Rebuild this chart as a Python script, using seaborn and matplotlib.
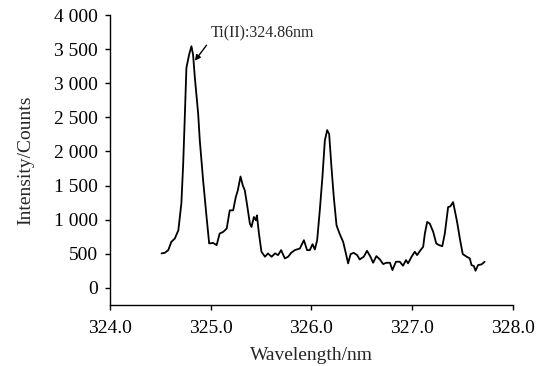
import matplotlib
matplotlib.use("Agg")
import matplotlib.pyplot as plt
import seaborn as sns
import pandas as pd

# ---- data ----
wavelength = [324.513, 324.546, 324.58, 324.61, 324.645, 324.68, 324.71, 324.728, 324.745, 324.76,
              324.787, 324.81, 324.826, 324.844, 324.877, 324.893, 324.926, 324.96, 324.986, 325.025,
              325.06, 325.09, 325.125, 325.16, 325.19, 325.224, 325.25, 325.27, 325.297, 325.32,
              325.34, 325.363, 325.39, 325.406, 325.43, 325.45, 325.46, 325.48, 325.505, 325.54,
              325.57, 325.605, 325.64, 325.67, 325.70, 325.737, 325.77, 325.80, 325.836, 325.886,
              325.926, 325.958, 325.985, 326.012, 326.035, 326.058, 326.084, 326.11, 326.134, 326.157,
              326.177, 326.20, 326.223, 326.25, 326.28, 326.316, 326.343, 326.365, 326.39, 326.42,
              326.455, 326.48, 326.52, 326.553, 326.587, 326.613, 326.646, 326.68, 326.713, 326.746,
              326.78, 326.805, 326.84, 326.878, 326.91, 326.94, 326.96, 326.995, 327.027, 327.05,
              327.084, 327.11, 327.127, 327.15, 327.176, 327.21, 327.24, 327.268, 327.30, 327.325,
              327.358, 327.38, 327.407, 327.424, 327.447, 327.477, 327.503, 327.543, 327.573, 327.59,
              327.613, 327.63, 327.655, 327.69, 327.72]
intensity = [506, 515, 554, 675, 724, 845, 1240, 1818, 2550, 3226,
             3420, 3542, 3420, 3080, 2546, 2157, 1574, 1040, 652, 660,
             627, 797, 821, 870, 1137, 1137, 1331, 1428, 1633, 1501,
             1428, 1210, 943, 894, 1040, 991, 1064, 797, 530, 457,
             506, 457, 506, 481, 554, 433, 457, 515, 554, 578,
             700, 554, 554, 641, 564, 700, 1137, 1622, 2157, 2313,
             2255, 1768, 1331, 918, 797, 675, 506, 360, 496, 515,
             481, 418, 457, 544, 457, 369, 466, 418, 350, 369,
             369, 262, 384, 384, 325, 408, 360, 457, 530, 481,
             554, 602, 797, 967, 943, 821, 652, 627, 612, 797,
             1186, 1195, 1258, 1137, 967, 700, 496, 457, 433, 335,
             321, 252, 335, 345, 384]

x_ticks = [324.0, 325.0, 326.0, 327.0, 328.0]
x_tick_labels = ["324.0", "325.0", "326.0", "327.0", "328.0"]
y_ticks = [0, 500, 1000, 1500, 2000, 2500, 3000, 3500, 4000]
y_tick_labels = ["0", "500", "1 000", "1 500", "2 000", "2 500", "3 000", "3 500", "4 000"]

peak_label = "Ti(II):324.86nm"
peak_x, peak_y = 324.844, 3330
label_x, label_y = 325.0, 3730

df = pd.DataFrame({"Wavelength": wavelength, "Intensity": intensity})

sns.set_style("ticks")
plt.rcParams["font.family"] = ["Liberation Serif", "DejaVu Serif"]

fig = plt.figure(figsize=(5.52, 3.66), dpi=100)
ax = fig.add_axes([0.199, 0.1667, 0.730, 0.7923])

sns.lineplot(data=df, x="Wavelength", y="Intensity", ax=ax, color="black", linewidth=1.3)

ax.set_xlim(324.0, 328.0)
ax.set_ylim(-250, 4000)
ax.set_xticks(x_ticks)
ax.set_xticklabels(x_tick_labels, fontsize=14)
ax.set_yticks(y_ticks)
ax.set_yticklabels(y_tick_labels, fontsize=14)
ax.tick_params(axis="x", direction="out", length=3.5, width=1, colors="black", pad=7.5)
ax.tick_params(axis="y", direction="out", length=3.5, width=1, colors="black", pad=5)
ax.set_xlabel("Wavelength/nm", fontsize=14, labelpad=7)
ax.set_ylabel("Intensity/Counts", fontsize=14, labelpad=14)

for s in ["left", "bottom"]:
    ax.spines[s].set_linewidth(1.0)
    ax.spines[s].set_color("black")
sns.despine(ax=ax)

ax.annotate(peak_label, xy=(peak_x, peak_y), xytext=(label_x, label_y),
            fontsize=11.5, va="center", ha="left",
            arrowprops=dict(arrowstyle="-|>", color="black", lw=1.0, relpos=(0.0, 0.1),
                            shrinkA=1, shrinkB=0, mutation_scale=8))

fig.savefig("out.png", dpi=100)
